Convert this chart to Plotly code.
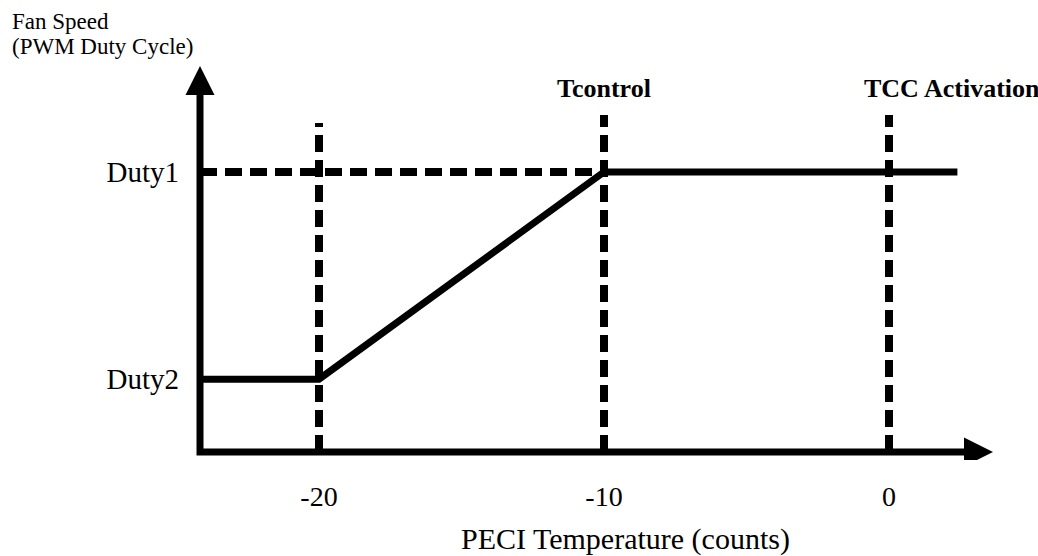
import plotly.graph_objects as go

# ---- data ----
temps = [-20, -10, 0]                      # PECI temperature marks (counts)
temp_labels = ["-20", "-10", "0"]
duty_names = ["Duty2", "Duty1"]
duty_values = [26, 100]                    # relative PWM duty levels
marker_names = ["Tcontrol", "TCC Activation"]
marker_temps = [-10, 0]

curve_x = [-24.175, -20, -10, 2.4]         # fan speed curve (temperature)
curve_y = [26, 26, 100, 100]               # fan speed curve (duty)

dash_tops = [117.5, 120.4, 120.4]          # top of each vertical dashed guide

# ---- layout constants ----
W, H = 1038, 556
X_RANGE = [-24.877, 5.228]
Y_RANGE = [-2.857, 161.43]
AXIS_X = -24.175
Y_TIP = 137.86
X_TIP = 3.65
FONT = "Liberation Serif, Times New Roman, serif"

fig = go.Figure()

# vertical dashed guides
for t, top in zip(temps, dash_tops):
    fig.add_trace(go.Scatter(x=[t, t], y=[0, top], mode="lines",
                             line=dict(color="black", width=8, dash="17px,8px"),
                             hoverinfo="skip", showlegend=False))
# horizontal dashed guide at Duty1
fig.add_trace(go.Scatter(x=[AXIS_X, temps[1]], y=[duty_values[1], duty_values[1]], mode="lines",
                         line=dict(color="black", width=8, dash="17px,8px"),
                         hoverinfo="skip", showlegend=False))
# fan speed curve
fig.add_trace(go.Scatter(x=curve_x, y=curve_y, mode="lines",
                         line=dict(color="black", width=7),
                         hoverinfo="skip", showlegend=False))

# axes with arrows
fig.add_shape(type="path", xref="x", yref="y",
              path=f"M {AXIS_X},{Y_TIP - 8} L {AXIS_X},0 L {X_TIP - 0.8},0",
              line=dict(color="black", width=7), layer="above")
fig.add_shape(type="path", xref="x", yref="y", xsizemode="pixel", ysizemode="pixel",
              xanchor=X_TIP, yanchor=0,
              path="M 0,0 L -29,14.5 L -29,-14.5 Z",
              fillcolor="black", line=dict(color="black", width=0), layer="above")
fig.add_shape(type="path", xref="x", yref="y", xsizemode="pixel", ysizemode="pixel",
              xanchor=AXIS_X, yanchor=Y_TIP,
              path="M 0,0 L -14.5,-29 L 14.5,-29 Z",
              fillcolor="black", line=dict(color="black", width=0), layer="above")

# marker labels
fig.add_annotation(x=marker_temps[0], y=130, xref="x", yref="y", text="<b>Tcontrol</b>",
                   showarrow=False, font=dict(family=FONT, size=26, color="black"))
fig.add_annotation(x=marker_temps[1], y=130, xref="x", yref="y", text="<b>TCC Activation</b>",
                   showarrow=False, xshift=63, font=dict(family=FONT, size=26, color="black"))

# y axis title (top-left), two lines
fig.add_annotation(x=0, y=1, xref="paper", yref="paper", xanchor="left", yanchor="middle",
                   xshift=-170, yshift=-21, align="left",
                   text="Fan Speed", showarrow=False,
                   font=dict(family=FONT, size=23, color="black"))
fig.add_annotation(x=0, y=1, xref="paper", yref="paper", xanchor="left", yanchor="middle",
                   xshift=-170, yshift=-46, align="left",
                   text="(PWM Duty Cycle)", showarrow=False,
                   font=dict(family=FONT, size=23, color="black"))
# x axis title
fig.add_annotation(x=0.5, y=0, xref="paper", yref="paper", xanchor="center", yanchor="middle",
                   xshift=16, yshift=-79, text="PECI Temperature (counts)", showarrow=False,
                   font=dict(family=FONT, size=30, color="black"))

fig.update_layout(
    width=W, height=H,
    margin=dict(l=180, r=0, t=0, b=96),
    paper_bgcolor="white", plot_bgcolor="white",
    xaxis=dict(range=X_RANGE, showgrid=False, zeroline=False, showline=False,
               tickvals=temps, ticktext=temp_labels, ticks="",
               ticklabelstandoff=17,
               tickfont=dict(family=FONT, size=28, color="black"), fixedrange=True),
    yaxis=dict(range=Y_RANGE, showgrid=False, zeroline=False, showline=False,
               tickvals=duty_values, ticktext=duty_names, ticks="",
               ticklabelstandoff=0,
               tickfont=dict(family=FONT, size=29, color="black"), fixedrange=True),
)

fig.write_html("out.html", config={"displayModeBar": False},
               post_script="document.body.style.margin='0';document.body.style.padding='0';")
